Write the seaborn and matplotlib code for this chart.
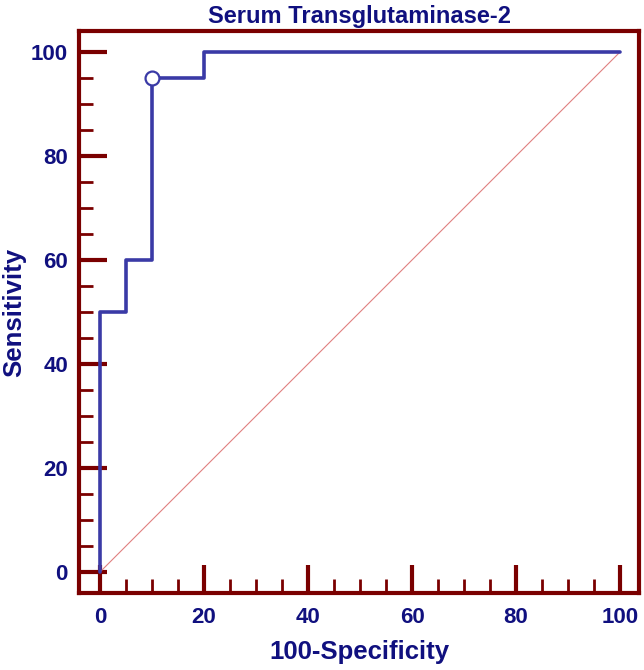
import matplotlib
matplotlib.use("Agg")
import matplotlib.pyplot as plt
import seaborn as sns
import pandas as pd
from matplotlib.ticker import MultipleLocator

fpr = [0, 0, 5, 5, 10, 10, 20, 20, 100]
tpr = [0, 50, 50, 60, 60, 95, 95, 100, 100]
criterion_x = [10]
criterion_y = [95]
diag = [0, 100]
xticks = [0, 20, 40, 60, 80, 100]
yticks = [0, 20, 40, 60, 80, 100]

sns.set_theme(style="white")
plt.rcParams['font.family'] = ['Liberation Sans', 'DejaVu Sans']

navy = "#10107f"
maroon = "#7a0000"
curve = "#3a3aa6"

fig = plt.figure(figsize=(6.44, 6.70), dpi=100)
ax = fig.add_axes([79/644, 1-593/670, 560/644, 562/670])

df = pd.DataFrame({"x": fpr, "y": tpr})
ax.plot(diag, diag, color="#e08080", lw=0.8, zorder=1)
sns.lineplot(data=df, x="x", y="y", ax=ax, color=curve, lw=2.6, sort=False,
             estimator=None, zorder=2)
ax.plot(criterion_x, criterion_y, marker="o", ms=10, mfc="white", mec=curve,
        mew=1.6, ls="none", zorder=3)

ax.set_xlim(-4.04, 103.65)
ax.set_ylim(-4.04, 104.04)
ax.set_xticks(xticks)
ax.set_yticks(yticks)
ax.xaxis.set_minor_locator(MultipleLocator(5))
ax.yaxis.set_minor_locator(MultipleLocator(5))
ax.tick_params(which="major", direction="in", length=20, width=3, color=maroon,
               labelcolor=navy, labelsize=16, bottom=True, left=True)
ax.tick_params(axis="x", which="major", pad=10)
ax.tick_params(axis="y", which="major", pad=8)
ax.tick_params(which="minor", direction="in", length=10, width=2, color=maroon,
               bottom=True, left=True)
for lab in ax.get_xticklabels() + ax.get_yticklabels():
    lab.set_fontweight("bold")
for s in ax.spines.values():
    s.set_color(maroon)
    s.set_linewidth(3)

ax.set_xlabel("100-Specificity", color=navy, fontsize=18.5, fontweight="bold", labelpad=9)
ax.set_ylabel("Sensitivity", color=navy, fontsize=18.5, fontweight="bold", labelpad=3)
ax.set_title("Serum Transglutaminase-2", color=navy, fontsize=17, fontweight="bold", pad=6)

fig.savefig("out.png", dpi=100)
